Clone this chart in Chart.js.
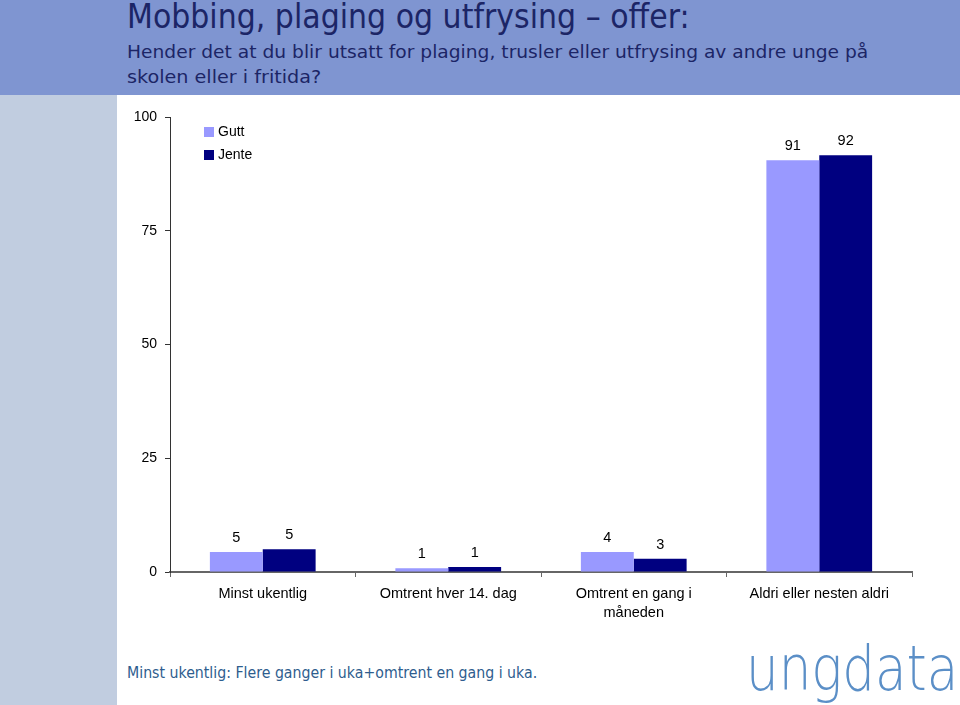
<!DOCTYPE html>
<html>
<head>
<meta charset="utf-8">
<script src="https://cdn.jsdelivr.net/npm/chart.js@4"></script>
<style>
  html, body { margin: 0; padding: 0; }
  body { width: 960px; height: 705px; position: relative; overflow: hidden; background: #fff; font-family: "Liberation Sans", Arial, sans-serif; }
  #header { position: absolute; left: 0; top: 0; width: 960px; height: 95px; background: #7f95d1; }
  #side { position: absolute; left: 0; top: 95px; width: 117px; height: 610px; background: #c1cde0; }
  .fit { position: absolute; white-space: nowrap; transform-origin: 0 0; line-height: 1; font-family: "DejaVu Sans", Verdana, sans-serif; }
  #title { left: 127px; top: 0px; font-size: 33px; color: #1c2566; }
  #sub1 { left: 127px; top: 43px; font-size: 18px; color: #1c2566; }
  #sub2 { left: 127px; top: 68px; font-size: 18px; color: #1c2566; }
  #note { left: 127px; top: 666px; font-size: 15px; color: #2e5d8e; }
  #logo { left: 746px; top: 638px; font-weight: 200; font-size: 62px; color: #5b8fc7; }
  #wrap { position: absolute; left: 117px; top: 95px; width: 843px; height: 545px; }
  #legend { position: absolute; left: 204px; top: 122px; font-size: 14px; }
  #legend div { height: 23px; line-height: 18px; }
  #legend span { display: inline-block; width: 10px; height: 10px; margin-right: 4px; vertical-align: -1px; }
</style>
</head>
<body>
<div id="header"></div>
<div id="side"></div>
<div id="title" class="fit" data-w="563">Mobbing, plaging og utfrysing – offer:</div>
<div id="sub1" class="fit" data-w="741">Hender det at du blir utsatt for plaging, trusler eller utfrysing av andre unge på</div>
<div id="sub2" class="fit" data-w="194">skolen eller i fritida?</div>
<div id="wrap"><canvas id="chart"></canvas></div>
<div id="legend"></div>
<div id="note" class="fit" data-w="410">Minst ukentlig: Flere ganger i uka+omtrent en gang i uka.</div>
<div id="logo" class="fit" data-w="212">ungdata</div>
<script>
const categories = [
  "Minst ukentlig",
  "Omtrent hver 14. dag",
  ["Omtrent en gang i", "måneden"],
  "Aldri eller nesten aldri"
];
const seriesNames = ["Gutt", "Jente"];
const gutt = [4.4, 0.8, 4.4, 90.5];
const jente = [5.0, 1.1, 2.9, 91.6];
const guttLabels = [5, 1, 4, 91];
const jenteLabels = [5, 1, 3, 92];
const yTicks = [0, 25, 50, 75, 100];
const colors = ["#9999ff", "#000080"];

document.querySelectorAll(".fit").forEach(el => {
  const target = +el.dataset.w;
  el.style.transform = "scaleX(" + (target / el.scrollWidth) + ")";
});

const legend = document.getElementById("legend");
seriesNames.forEach((n, i) => {
  const d = document.createElement("div");
  d.innerHTML = '<span style="background:' + colors[i] + '"></span>' + n;
  legend.appendChild(d);
});

const labelSets = [guttLabels, jenteLabels];
const valueLabels = {
  id: "valueLabels",
  afterDatasetsDraw(chart) {
    const ctx = chart.ctx;
    ctx.save();
    ctx.font = "14.5px 'Liberation Sans', Arial, sans-serif";
    ctx.fillStyle = "#000";
    ctx.textAlign = "center";
    ctx.textBaseline = "middle";
    chart.data.datasets.forEach((ds, i) => {
      chart.getDatasetMeta(i).data.forEach((bar, j) => {
        ctx.fillText(String(labelSets[i][j]), bar.x, bar.y - 14);
      });
    });
    ctx.restore();
  }
};

Chart.defaults.font.family = "'Liberation Sans', Arial, sans-serif";
Chart.defaults.font.size = 14;
Chart.defaults.color = "#000";

new Chart(document.getElementById("chart"), {
  type: "bar",
  data: {
    labels: categories,
    datasets: [
      { label: seriesNames[0], data: gutt, backgroundColor: colors[0] },
      { label: seriesNames[1], data: jente, backgroundColor: colors[1] }
    ]
  },
  options: {
    responsive: true,
    maintainAspectRatio: false,
    animation: false,
    layout: { padding: { left: 0, right: 48, top: 22, bottom: 0 } },
    plugins: { legend: { display: false }, tooltip: { enabled: false } },
    datasets: { bar: { categoryPercentage: 0.57, barPercentage: 1.0 } },
    scales: {
      x: {
        grid: { drawOnChartArea: false, drawTicks: true, tickLength: 5, color: "#666", offset: true },
        border: { color: "#666", width: 2 },
        ticks: { padding: 8, maxRotation: 0, autoSkip: false, font: { size: 14.5, lineHeight: 1.3 } },
        afterFit(scale) { scale.height = 68; }
      },
      y: {
        min: 0,
        max: 100,
        afterBuildTicks(scale) { scale.ticks = yTicks.map(v => ({ value: v })); },
        grid: { drawOnChartArea: false, drawTicks: true, tickLength: 5, color: "#333" },
        border: { color: "#333", width: 1 },
        ticks: { padding: 8, font: { size: 14 } },
        afterFit(scale) { scale.width = 53; }
      }
    }
  },
  plugins: [valueLabels]
});
</script>
</body>
</html>
